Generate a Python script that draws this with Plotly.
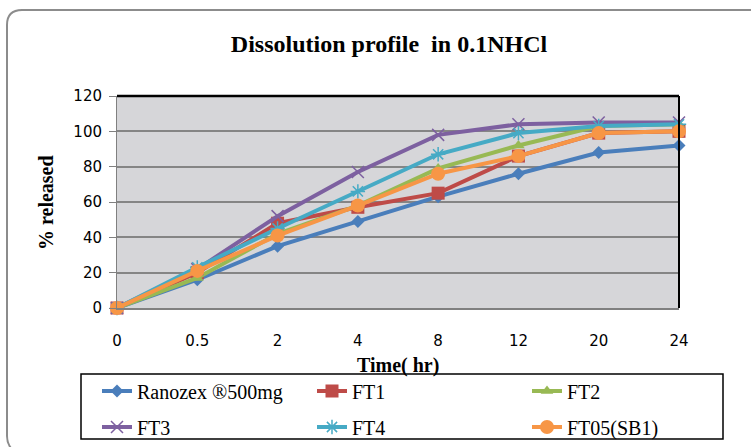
import plotly.graph_objects as go

time_labels = ["0", "0.5", "2", "4", "8", "12", "20", "24"]
ranozex = [0, 16, 35, 49, 63, 76, 88, 92]
ft1 = [0, 20, 48, 57, 65, 86, 99, 100]
ft2 = [0, 17, 42, 58, 79, 92, 103, 104]
ft3 = [0, 22, 52, 77, 98, 104, 105, 105]
ft4 = [0, 23, 45, 66, 87, 99, 103, 104]
ft05 = [0, 21, 41, 58, 76, 86, 99, 100]

series_names = ["Ranozex ®500mg", "FT1", "FT2", "FT3", "FT4", "FT05(SB1)"]
series_values = [ranozex, ft1, ft2, ft3, ft4, ft05]
colors = ["#4A7EBB", "#BE4B48", "#98B954", "#7D60A0", "#46AAC5", "#F79646"]
symbols = ["diamond", "square", "triangle-up", "x-thin", "asterisk-open", "circle"]
msizes = [10, 13, 11, 12, 12, 14]
legend_ids = ["legend", "legend", "legend", "legend2", "legend2", "legend2"]

W, H = 751, 447
L, R, T, B = 117, 72, 96, 139
PW, PH = W - L - R, H - T - B


def px(x):
    return (x - L) / PW


def py(y):
    return (H - B - y) / PH


fig = go.Figure()
for name, vals, c, s, ms, lg in zip(series_names, series_values, colors, symbols, msizes, legend_ids):
    thin = s in ("x-thin", "asterisk-open")
    fig.add_trace(go.Scatter(
        x=time_labels, y=vals, name=name, mode="lines+markers",
        line=dict(color=c, width=4),
        marker=dict(symbol=s, size=ms, color=c,
                    line=dict(color=c, width=1.5 if thin else 0)),
        cliponaxis=False, legend=lg,
    ))

serif = "Liberation Serif, Times New Roman, serif"
sans = "DejaVu Sans"

legend_common = dict(
    orientation="h", xanchor="left", yanchor="top",
    bgcolor="rgba(0,0,0,0)", borderwidth=0,
    font=dict(family=serif, size=20, color="black"),
    entrywidth=170, entrywidthmode="pixels", itemwidth=30,
)

fig.update_layout(
    width=W, height=H, autosize=False,
    font=dict(family=serif, color="black"),
    margin=dict(l=L, r=R, t=T, b=B, autoexpand=False),
    paper_bgcolor="white", plot_bgcolor="#D6D6D9",
    title=dict(text="<b>Dissolution profile  in 0.1NHCl</b>", x=px(389), xref="paper",
               xanchor="center", y=1 - 44 / H, yanchor="middle",
               font=dict(family=serif, size=24, color="black")),
    showlegend=True,
    legend=dict(x=px(97), y=py(371.5), **legend_common),
    legend2=dict(x=px(97), y=py(407.5), **legend_common),
    xaxis=dict(type="category", range=[0, 7], showgrid=False, zeroline=False,
               showline=True, linecolor="#808080", linewidth=2,
               ticks="", ticklabelstandoff=18,
               tickfont=dict(family=sans, size=15, color="black")),
    yaxis=dict(range=[0, 120], dtick=20, showgrid=True, gridcolor="#858585", gridwidth=1.5,
               zeroline=False, showline=True, linecolor="#808080", linewidth=1,
               ticks="outside", ticklen=7, tickcolor="#808080", ticklabelstandoff=4,
               tickfont=dict(family=sans, size=15, color="black")),
    annotations=[
        dict(text="<b>% released</b>", x=px(46), y=py(203), xref="paper", yref="paper",
             textangle=-90, showarrow=False, xanchor="center", yanchor="middle",
             font=dict(family=serif, size=20, color="black")),
        dict(text="<b>Time( hr)</b>", x=px(398), y=py(365), xref="paper", yref="paper",
             showarrow=False, xanchor="center", yanchor="middle",
             font=dict(family=serif, size=20, color="black")),
    ],
    shapes=[
        dict(type="line", xref="paper", yref="paper", x0=0, x1=1, y0=1, y1=1,
             line=dict(color="black", width=2.5)),
        dict(type="line", xref="paper", yref="paper", x0=1, x1=1, y0=0, y1=1,
             line=dict(color="black", width=2)),
        dict(type="rect", xref="paper", yref="paper", x0=px(81), x1=px(723),
             y0=py(374), y1=py(439), line=dict(color="black", width=1.5)),
        dict(type="path", xref="paper", yref="paper",
             path=(f"M {px(770)},{py(10)} L {px(22)},{py(10)} "
                   f"Q {px(7)},{py(10)} {px(7)},{py(25)} L {px(7)},{py(436)} "
                   f"Q {px(7)},{py(446)} {px(15)},{py(452)}"),
             line=dict(color="#8C8C8C", width=2)),
    ],
)

fig.write_html("out.html")
